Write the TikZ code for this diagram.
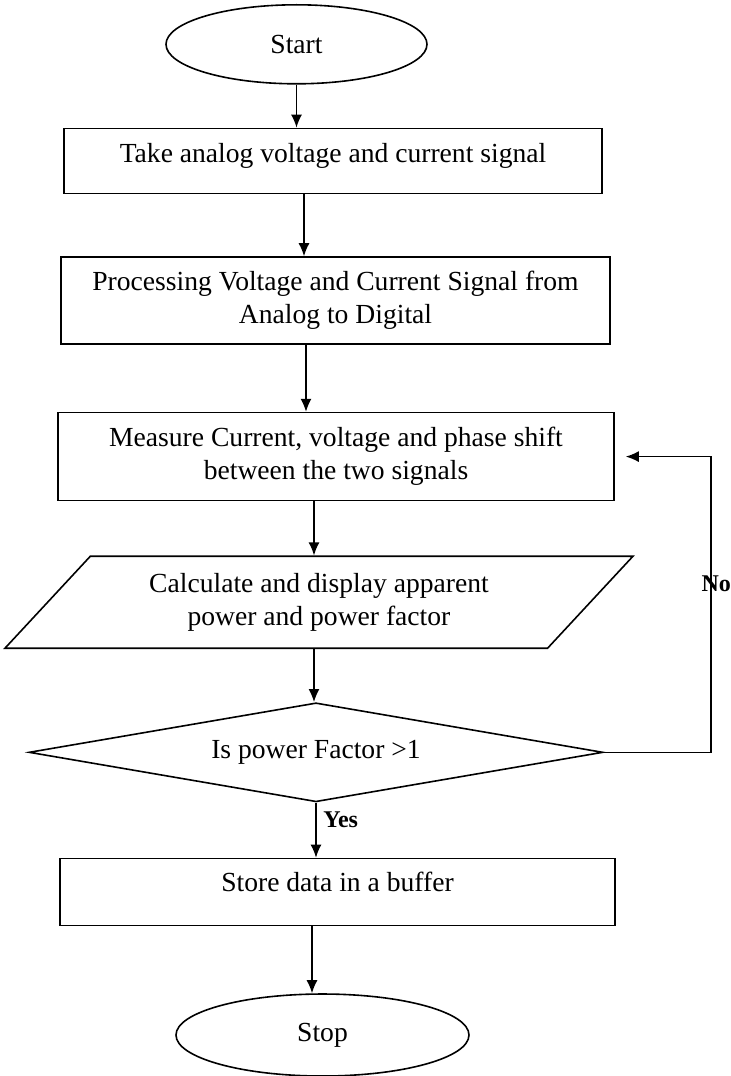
\documentclass[tikz,border=0pt]{standalone}
\usepackage{fontspec}
\setmainfont{Liberation Serif}
\usetikzlibrary{arrows.meta,positioning,shapes.geometric}
\tikzset{
  terminal/.style={draw, ellipse, thick, minimum width=130.5pt,
    minimum height=39.5pt, inner sep=1pt},
  process/.style={draw, thick, align=center, inner sep=2pt},
  io/.style={draw, thick, trapezium, trapezium left angle=36,
    trapezium right angle=144, trapezium stretches body,
    minimum width=314pt, minimum height=46pt, align=center, inner sep=1pt},
  decision/.style={draw, thick, diamond, aspect=5.8, inner sep=1pt,
    minimum width=287pt, minimum height=49.5pt},
  arrow/.style={-{Latex[length=6.5pt,width=5.5pt]}, line width=0.7pt},
  answer/.style={font=\fontsize{12pt}{14pt}\bfseries\selectfont}
}

\begin{document}
\begin{tikzpicture}[font=\fontsize{13.8pt}{16.5pt}\selectfont]
      \node[terminal] (start) {Start};
      \useasboundingbox ([xshift=-148.25pt,yshift=2pt]start.north) rectangle ++(365.5pt,-538pt);
      \node[process, minimum width=269pt, minimum height=32.5pt, text depth=7.5pt,
        below=21.5pt of start, xshift=18.25pt] (take) {Take analog voltage and current signal};
      \node[process, minimum width=274.5pt, minimum height=43.5pt,
        below=31pt of take, xshift=1.25pt] (adc) {Processing Voltage and Current Signal from\\Analog to Digital};
      \node[process, minimum width=278pt, minimum height=44pt,
        below=33.5pt of adc, xshift=0.25pt] (measure) {Measure Current, voltage and phase shift\\between the two signals};
      \node[io, below=27pt of measure, xshift=-8.5pt] (calc) {Calculate and display apparent\\power and power factor};
      \node[decision, below=26.5pt of calc, xshift=-1.5pt] (check) {Is power Factor >1};
      \node[process, minimum width=277.5pt, minimum height=33.5pt, text depth=10pt,
        below=27.5pt of check, xshift=10.75pt] (store) {Store data in a buffer};
      \node[terminal, minimum width=146.5pt, minimum height=41pt,
        below=33.5pt of store, xshift=-7.5pt] (stop) {Stop};
      \draw[arrow] (start.south) -- (start.south |- take.north);
      \draw[arrow] ([xshift=-14.5pt]take.south) -- ([xshift=-14.5pt]take.south |- adc.north);
      \draw[arrow] ([xshift=-14.75pt]adc.south) -- ([xshift=-14.75pt]adc.south |- measure.north);
      \draw[arrow] ([xshift=-11pt]measure.south) -- ([xshift=-11pt]measure.south |- calc.north);
      \draw[arrow] ([xshift=-2.5pt]calc.south) -- ([xshift=-2.5pt]calc.south |- check.north);
      \draw[arrow] (check.south) -- node[answer, right, pos=0.32] (yes) {Yes} (check.south |- store.north);
      \draw[arrow] (check.east) -- ++(53.5pt,0) |- node[answer, pos=0.285, xshift=2.75pt] (no) {No} ([xshift=5.5pt]measure.east);
      \draw[arrow] ([xshift=-12.75pt]store.south) -- ([xshift=-12.75pt]store.south |- stop.north);
    \end{tikzpicture}
\end{document}
